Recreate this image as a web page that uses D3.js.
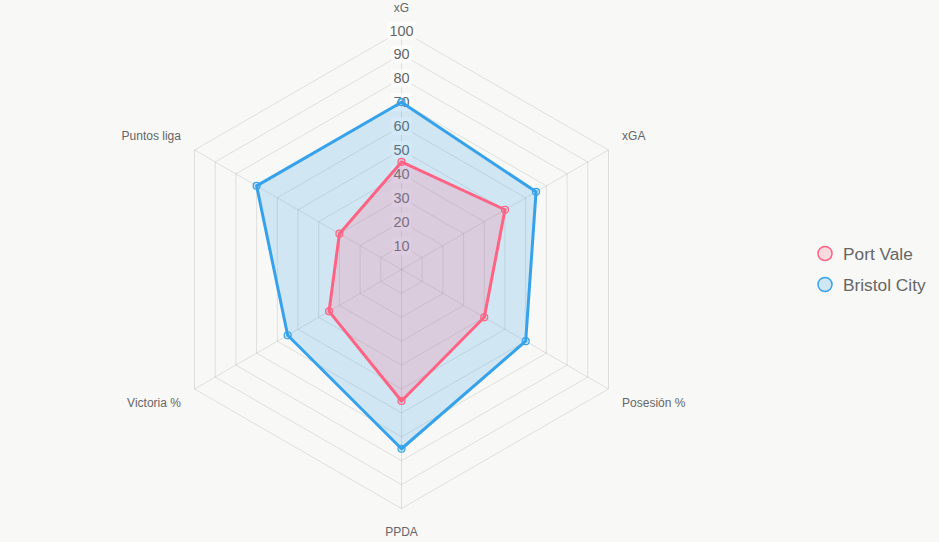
<!DOCTYPE html>
<html><head><meta charset="utf-8">
<script src="https://cdn.jsdelivr.net/npm/d3@7"></script>
<style>
html,body{margin:0;padding:0;background:#f8f8f6;}
svg{display:block;font-family:"Liberation Sans",Arial,Helvetica,sans-serif;}
</style></head>
<body>
<svg id="chart" width="939" height="542"></svg>
<script>
const categories = ["xG", "xGA", "Posesión %", "PPDA", "Victoria %", "Puntos liga"];
const portVale = [45, 50, 40, 55, 35, 30];
const bristolCity = [70, 65, 60, 75, 55, 70];
const seriesNames = ["Port Vale", "Bristol City"];
const tickValues = [10, 20, 30, 40, 50, 60, 70, 80, 90, 100];

const colors = ["rgb(255,99,132)", "rgb(54,162,235)"];
const fills = ["rgba(255,99,132,0.2)", "rgba(54,162,235,0.2)"];

const svg = d3.select("#chart");
const cx = 401.5, cy = 269.5, R = 239;
const r = d3.scaleLinear().domain([0, 100]).range([0, R]);
const n = categories.length;
const angle = i => -Math.PI / 2 + i * 2 * Math.PI / n;
const pt = (i, v) => [cx + r(v) * Math.cos(angle(i)), cy + r(v) * Math.sin(angle(i))];

const g = svg.append("g");
// grid polygons
tickValues.forEach(t => {
  g.append("polygon")
    .attr("points", categories.map((c, i) => pt(i, t).join(",")).join(" "))
    .attr("fill", "none").attr("stroke", "rgba(0,0,0,0.1)").attr("stroke-width", 1);
});
// angle lines
categories.forEach((c, i) => {
  const p = pt(i, 100);
  g.append("line").attr("x1", cx).attr("y1", cy).attr("x2", p[0]).attr("y2", p[1])
    .attr("stroke", "rgba(0,0,0,0.1)").attr("stroke-width", 1);
});

// tick labels (drawn under datasets)
tickValues.forEach(t => {
  const y = cy - r(t);
  const txt = g.append("text").attr("x", cx).attr("y", y).attr("text-anchor", "middle")
    .attr("dy", "0.35em").attr("font-size", 14.5).attr("fill", "#666").text(t);
  const bb = txt.node().getBBox();
  g.insert("rect", () => txt.node())
    .attr("x", bb.x - 2).attr("y", bb.y - 1).attr("width", bb.width + 4).attr("height", bb.height + 2)
    .attr("fill", "rgba(255,255,255,0.75)");
});

// datasets (last first so first dataset is on top)
const data = [portVale, bristolCity];
const order = [1, 0];
order.forEach(k => {
  const vals = data[k];
  const line = d3.lineRadial().angle((d, i) => i * 2 * Math.PI / n).radius(d => r(d)).curve(d3.curveLinearClosed);
  g.append("path").attr("transform", `translate(${cx},${cy})`)
    .attr("d", line(vals))
    .attr("fill", fills[k]).attr("stroke", colors[k]).attr("stroke-width", 3)
    .attr("stroke-linejoin", "round");
  vals.forEach((v, i) => {
    const p = pt(i, v);
    g.append("circle").attr("cx", p[0]).attr("cy", p[1]).attr("r", 3.5)
      .attr("fill", fills[k]).attr("stroke", colors[k]).attr("stroke-width", 1.2);
  });
});

// point labels
categories.forEach((c, i) => {
  const a = angle(i);
  const d = R + 18;
  let x = cx + d * Math.cos(a), y = cy + d * Math.sin(a);
  const cos = Math.cos(a), sin = Math.sin(a);
  let anchor = Math.abs(cos) < 0.01 ? "middle" : (cos > 0 ? "start" : "end");
  if (cos > 0.01) x -= 2; if (cos < -0.01) x += 2;
  let baseY = sin < 0 ? y - 1 : y + 9;
  g.append("text").attr("x", x).attr("y", baseY).attr("text-anchor", anchor)
    .attr("font-size", 12).attr("fill", "#666").text(c);
});

// legend
const lg = svg.append("g");
seriesNames.forEach((s, k) => {
  const y = 253.5 + k * 31;
  lg.append("circle").attr("cx", 825).attr("cy", y).attr("r", 7)
    .attr("fill", fills[k]).attr("stroke", colors[k]).attr("stroke-width", 1.5);
  lg.append("text").attr("x", 843).attr("y", y).attr("dy", "0.35em")
    .attr("font-size", 17.3).attr("fill", "#666").text(s);
});
</script>
</body></html>
